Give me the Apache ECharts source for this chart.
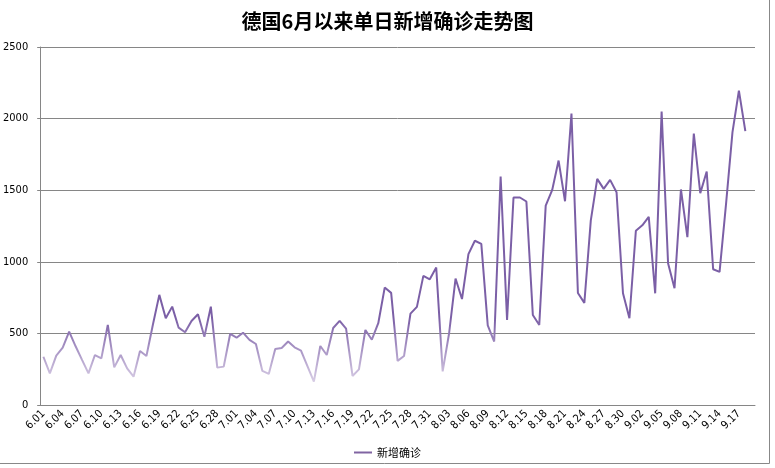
<!DOCTYPE html>
<html>
<head>
<meta charset="utf-8">
<script src="https://cdn.jsdelivr.net/npm/echarts@6/dist/echarts.min.js"></script>
<style>
html,body{margin:0;padding:0;background:#fff;}
#chart{width:775px;height:468px;}
</style>
</head>
<body>
<div id="chart"></div>
<script>
const chartTitle = '德国6月以来单日新增确诊走势图';
const seriesName = '新增确诊';
const categories = [
'6.01','6.02','6.03','6.04','6.05','6.06','6.07','6.08','6.09','6.10',
'6.11','6.12','6.13','6.14','6.15','6.16','6.17','6.18','6.19','6.20',
'6.21','6.22','6.23','6.24','6.25','6.26','6.27','6.28','6.29','6.30',
'7.01','7.02','7.03','7.04','7.05','7.06','7.07','7.08','7.09','7.10',
'7.11','7.12','7.13','7.14','7.15','7.16','7.17','7.18','7.19','7.20',
'7.21','7.22','7.23','7.24','7.25','7.26','7.27','7.28','7.29','7.30','7.31',
'8.01','8.02','8.03','8.04','8.05','8.06','8.07','8.08','8.09','8.10',
'8.11','8.12','8.13','8.14','8.15','8.16','8.17','8.18','8.19','8.20',
'8.21','8.22','8.23','8.24','8.25','8.26','8.27','8.28','8.29','8.30','8.31',
'9.01','9.02','9.03','9.04','9.05','9.06','9.07','9.08','9.09','9.10',
'9.11','9.12','9.13','9.14','9.15','9.16','9.17','9.18','9.19'
];
const newCases = [
337,221,345,400,512,410,315,221,349,326,
559,263,349,256,198,377,342,560,769,606,
687,540,508,587,634,477,687,261,268,496,
470,505,455,426,238,217,391,398,443,403,
380,272,163,412,349,538,588,533,203,249,
524,456,571,820,783,308,342,638,685,902,
878,960,235,501,883,740,1054,1147,1125,556,
443,1596,594,1449,1449,1421,629,559,1392,1500,
1707,1423,2035,782,713,1287,1579,1509,1572,1486,
780,606,1217,1255,1314,780,2050,990,815,1505,
1172,1896,1479,1630,948,930,1403,1904,2195,1912
];
const yTicks = {min: 0, max: 2500, interval: 500};

const chart = echarts.init(document.getElementById('chart'));
const axisGray = '#868686';
chart.setOption({
  animation: false,
  backgroundColor: '#fff',
  title: {
    text: chartTitle,
    left: 'center',
    top: 6,
    textStyle: {fontFamily: 'Noto Sans CJK SC', fontSize: 20, fontWeight: 'bold', color: '#000'}
  },
  legend: {
    bottom: 5,
    left: 'center',
    itemWidth: 18,
    itemHeight: 2,
    itemGap: 4,
    textStyle: {fontFamily: 'Noto Sans CJK SC', fontSize: 11, color: '#000'},
    data: [{name: seriesName, icon: 'rect', itemStyle: {color: '#8064A2'}}]
  },
  grid: {left: 39, right: 20, top: 47, bottom: 63},
  xAxis: {
    type: 'category',
    data: categories,
    boundaryGap: true,
    axisLine: {lineStyle: {color: axisGray, width: 1}},
    axisTick: {interval: 2, length: 4, lineStyle: {color: axisGray}},
    axisLabel: {interval: 2, rotate: 45, margin: 7, fontSize: 11, fontFamily: 'DejaVu Sans Condensed', color: '#000'},
    splitLine: {show: false}
  },
  yAxis: {
    type: 'value',
    min: yTicks.min, max: yTicks.max, interval: yTicks.interval,
    axisLine: {show: true, lineStyle: {color: axisGray, width: 1}},
    axisTick: {show: true, length: 3, lineStyle: {color: axisGray}},
    axisLabel: {fontSize: 11, margin: 12, fontFamily: 'DejaVu Sans Condensed', color: '#000', formatter: function (v) { return String(v); }},
    splitLine: {show: true, lineStyle: {color: axisGray, width: 1}}
  },
  graphic: [
    {type: 'line', shape: {x1: 769.5, y1: 0, x2: 769.5, y2: 463.5}, style: {stroke: '#888', lineWidth: 1}},
    {type: 'line', shape: {x1: 0, y1: 463.5, x2: 769.5, y2: 463.5}, style: {stroke: '#888', lineWidth: 1}}
  ],
  series: [{
    name: seriesName,
    type: 'line',
    data: newCases,
    symbol: 'none',
    smooth: false,
    lineStyle: {
      width: 2,
      color: new echarts.graphic.LinearGradient(0, 385, 0, 318, [
        {offset: 0, color: '#dcd2e8'},
        {offset: 1, color: '#7b5fa6'}
      ], true)
    }
  }]
});
</script>
</body>
</html>
